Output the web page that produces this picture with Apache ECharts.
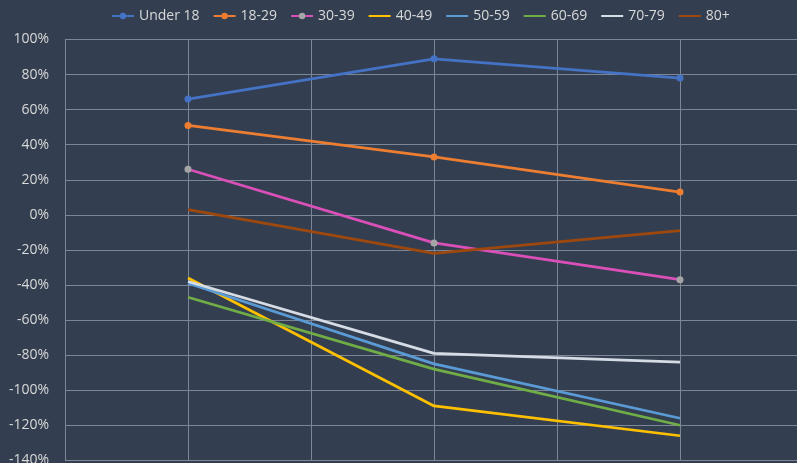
<!DOCTYPE html>
<html><head><meta charset="utf-8">
<script src="https://cdn.jsdelivr.net/npm/echarts@6/dist/echarts.min.js"></script>
<style>html,body{margin:0;padding:0;background:#333F50;}#c{width:797px;height:463px;}</style>
</head><body><div id="c"></div>
<script>
// three periods, placed at slots 1, 3, 5 of a 6-slot x scale (gridline every slot)
const categories = ['P1', 'P2', 'P3'];
const categorySlots = [1, 3, 5];
const seriesNames = ['Under 18', '18-29', '30-39', '40-49', '50-59', '60-69', '70-79', '80+'];
const under18 = [66, 89, 78];
const s18_29 = [51, 33, 13];
const s30_39 = [26, -16, -37];
const s40_49 = [-36, -109, -126];
const s50_59 = [-39, -85, -116];
const s60_69 = [-47, -88, -120];
const s70_79 = [-38, -79, -84];
const s80plus = [3, -22, -9];
const yTicks = { min: -140, max: 100, interval: 20 };

const colors = ['#4472C4', '#ED7D31', '#DA4FB8', '#FFC000', '#5B9BD5', '#70AD47', '#D6DCE5', '#9E480E'];
const hasMarker = [true, true, true, false, false, false, false, false];
const markerColors = [null, null, '#A5A5A5', null, null, null, null, null];
const values = [under18, s18_29, s30_39, s40_49, s50_59, s60_69, s70_79, s80plus];

const series = seriesNames.map((name, i) => ({
  name, type: 'line',
  data: values[i].map((v, k) => [categorySlots[k], v]),
  symbol: hasMarker[i] ? 'circle' : 'none', symbolSize: 7, showSymbol: hasMarker[i],
  lineStyle: { color: colors[i], width: 2.75 },
  itemStyle: { color: markerColors[i] || colors[i] },
  color: colors[i]
}));
const legendData = seriesNames.map((name, i) => hasMarker[i] ? { name } : { name, itemStyle: { opacity: 0 } });

const chart = echarts.init(document.getElementById('c'), null, { renderer: 'canvas' });
chart.setOption({
  backgroundColor: '#333F50',
  animation: false,
  legend: {
    data: legendData,
    top: 4, left: 106, itemWidth: 22, itemHeight: 8, itemGap: 13,
    textStyle: { color: '#D9D9D9', fontSize: 14, fontFamily: 'Open Sans, sans-serif' }
  },
  grid: { left: 65, right: 0, top: 39.5, bottom: 2.7, containLabel: false, outerBoundsMode: 'none' },
  xAxis: {
    type: 'value', min: 0, max: 5.951, interval: 1,
    axisLine: { show: false }, axisTick: { show: false }, axisLabel: { show: false },
    splitLine: { show: true, lineStyle: { color: '#7D8696', width: 1 } }
  },
  yAxis: {
    type: 'value', min: yTicks.min, max: yTicks.max, interval: yTicks.interval,
    axisLine: { show: true, lineStyle: { color: '#7D8696', width: 1 } },
    axisTick: { show: false },
    axisLabel: { color: '#D9D9D9', fontSize: 14, margin: 16, formatter: '{value}%', fontFamily: 'Open Sans, sans-serif' },
    splitLine: { show: true, lineStyle: { color: '#7D8696', width: 1 } }
  },
  series
});
</script></body></html>
